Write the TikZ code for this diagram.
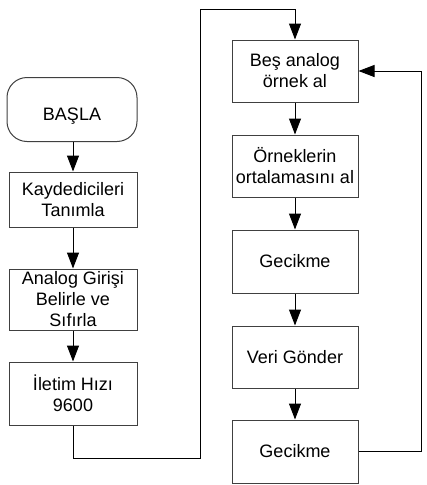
\documentclass[tikz,border=0pt]{standalone}
\usepackage{fontspec}
\setmainfont{Liberation Sans}
\usetikzlibrary{arrows.meta}
\begin{document}
\begin{tikzpicture}[x=1pt,y=-1pt,
  box/.style={draw=black!75, line width=1pt, fill=white, align=center, inner sep=0pt,
    font=\fontsize{18}{21}\selectfont},
  lbox/.style={box, minimum width=128pt},
  rbox/.style={box, minimum width=126pt},
  term/.style={box, rounded corners=20pt, minimum width=130pt, minimum height=64pt,
    text height=22pt, text depth=0pt},
  flow/.style={line width=1pt, -{Triangle[length=16pt,width=12pt]}},
  link/.style={line width=1pt}]
\useasboundingbox (0,0) rectangle (427,485);
\node[term] (start) at (72,109.5) {BAŞLA};
\node[lbox, minimum height=55pt] (kay) at (73,199.5) {Kaydedicileri\\Tanımla};
\node[lbox, minimum height=61pt] (ana) at (73,299.5) {Analog Girişi\\Belirle ve\\Sıfırla};
\node[lbox, minimum height=63pt] (ilt) at (73,393.5) {İletim Hızı\\9600};
\node[rbox, minimum height=62pt] (bes) at (295,71) {Beş analog\\örnek al};
\node[rbox, minimum height=62pt] (orn) at (295,166) {Örneklerin\\ortalamasını al};
\node[rbox, minimum height=63pt] (gec1) at (295,261.5) {Gecikme};
\node[rbox, minimum height=62pt] (veri) at (295,357) {Veri Gönder};
\node[rbox, minimum height=63pt] (gec2) at (295,451.5) {Gecikme};
\coordinate (c1) at (73,458);
\coordinate (c2) at (200,458);
\coordinate (c3) at (200,9);
\coordinate (c4) at (295,9);
\coordinate (f1) at (421,451.5);
\coordinate (f2) at (421,71);
\draw[flow] (start.south -| kay.north) -- (kay);
\draw[flow] (kay) -- (ana);
\draw[flow] (ana) -- (ilt);
\draw[flow] (ilt.south) -- (c1) -- (c2) -- (c3) -- (c4) -- (bes.north);
\draw[flow] (bes) -- (orn);
\draw[flow] (orn) -- (gec1);
\draw[flow] (gec1) -- (veri);
\draw[flow] (veri) -- (gec2);
\draw[flow] (gec2.east) -- (f1) -- (f2) -- (bes.east);
\end{tikzpicture}
\end{document}
